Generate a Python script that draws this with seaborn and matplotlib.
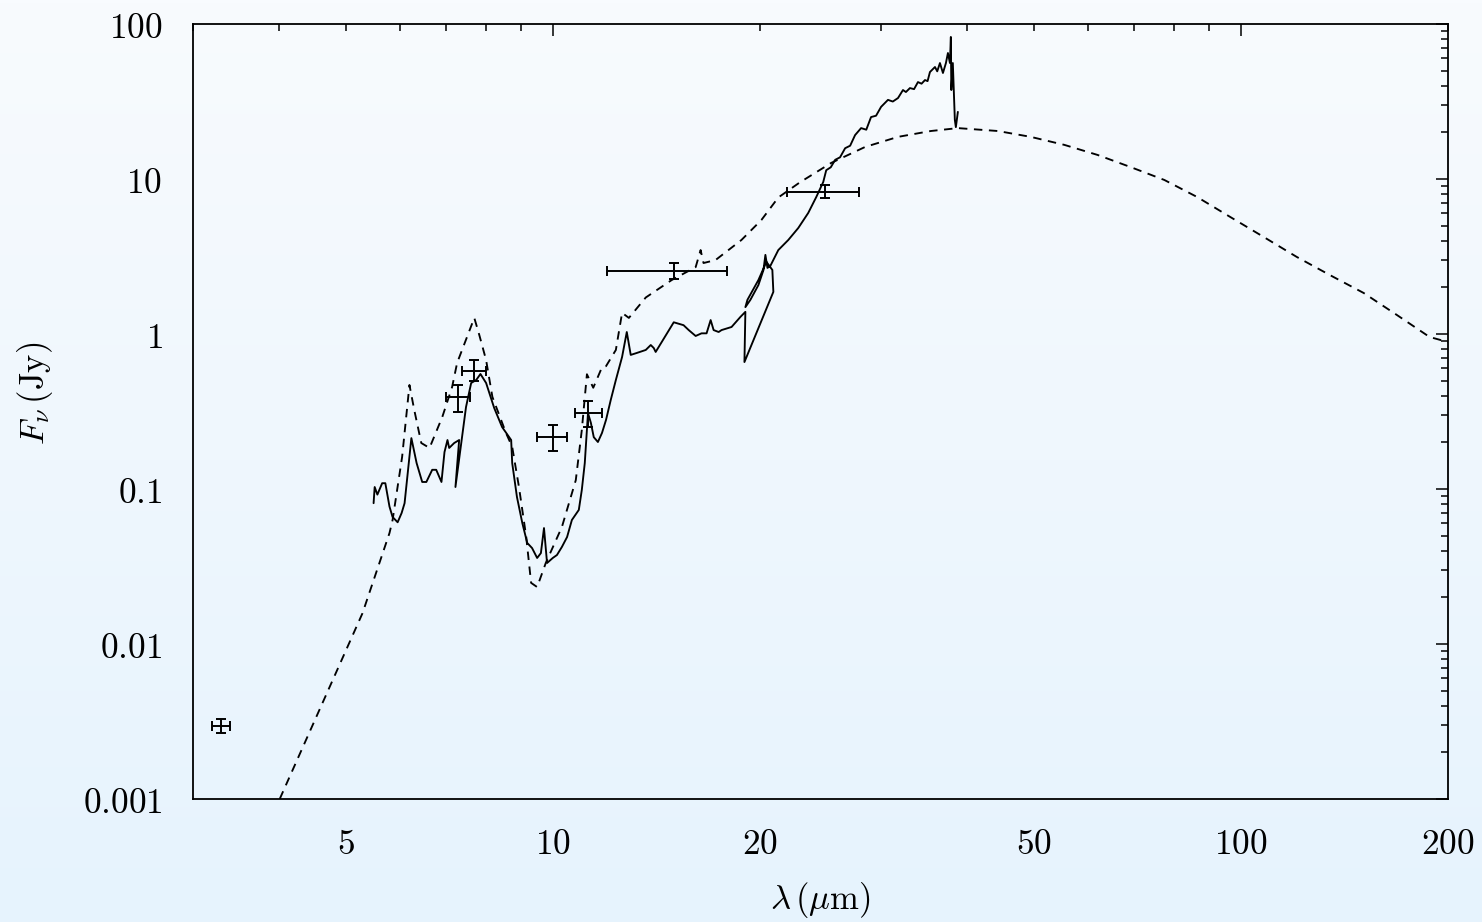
import numpy as np
import pandas as pd
import matplotlib
matplotlib.use("Agg")
import matplotlib.pyplot as plt
from matplotlib import ticker
import seaborn as sns

# ---------------- data ----------------
# model SED (dashed)
model_wl = [4.01, 5.29, 5.79, 5.85, 6.04, 6.19, 6.29, 6.44, 6.62, 6.91, 7.14, 7.26, 7.69,
            7.82, 8.00, 8.17, 8.55, 8.73, 8.93, 9.15, 9.30, 9.49, 9.77, 10.31, 10.80,
            11.02, 11.21, 11.45, 11.79, 11.95, 12.35, 12.61, 12.90, 13.65, 14.89, 16.13,
            16.40, 16.56, 17.24, 18.80, 20.10, 21.27, 22.85, 25.39, 28.44, 31.75, 35.44,
            38.79, 44.34, 49.5, 55.4, 61.9, 69.1, 77.4, 86.4, 96.5, 108.0, 120.6, 134.7,
            150.8, 168.4, 188.0, 200.0]
model_flux = [0.001, 0.0158, 0.052, 0.063, 0.161, 0.469, 0.324, 0.198, 0.184, 0.292, 0.455,
              0.65, 1.27, 0.985, 0.679, 0.393, 0.23, 0.187, 0.103, 0.049, 0.0248, 0.0233,
              0.0334, 0.0569, 0.114, 0.240, 0.55, 0.45, 0.61, 0.62, 0.789, 1.37, 1.27,
              1.72, 2.23, 2.70, 3.48, 2.87, 3.00, 4.04, 5.44, 7.6, 9.5, 12.7, 16.1, 18.7,
              20.4, 21.3, 20.4, 18.7, 16.6, 14.3, 11.95, 9.86, 7.65, 5.69, 4.22, 3.14, 2.40,
              1.84, 1.33, 0.957, 0.887]

# observed spectrum (solid)
spec_wl = [5.49, 5.51, 5.56, 5.65, 5.71, 5.79, 5.85, 5.95, 6.03, 6.09, 6.23, 6.34, 6.46,
           6.55, 6.68, 6.77, 6.89, 6.96, 7.03, 7.07, 7.19, 7.31,
           7.22, 7.48, 7.61, 7.74, 7.85, 8.00, 8.22, 8.44, 8.70, 8.73, 8.87, 9.03, 9.18,
           9.33, 9.49, 9.61, 9.71, 9.81, 10.0, 10.14, 10.31, 10.49, 10.66, 10.91, 11.02,
           11.13, 11.21, 11.25, 11.36, 11.47, 11.63, 11.79, 11.95, 12.14, 12.35, 12.61,
           12.81, 12.98, 13.24, 13.65, 13.88, 14.02, 14.11, 14.99, 15.49, 15.76, 16.13,
           16.45, 16.73, 16.96, 17.13, 17.42, 17.59, 18.19, 18.74, 19.05,
           18.99, 20.92, 20.85, 20.44, 19.90, 19.18, 19.05, 19.37, 19.90, 20.24, 20.37,
           20.51, 20.71,
           21.27, 21.99, 22.74, 23.51, 24.15, 24.72, 24.97, 25.35, 25.73, 26.15,
           26.60, 27.05, 27.50, 28.06, 28.55, 29.01, 29.50, 30.0, 30.70, 31.2,
           31.75, 32.28, 32.6, 33.04, 33.5, 33.94, 34.35, 34.75, 35.05, 35.33,
           35.93, 36.2, 36.53, 36.90, 37.27, 37.52, 37.77, 37.89, 37.95, 38.14,
           38.40, 38.53, 38.79]
spec_flux = [0.081, 0.103, 0.092, 0.109, 0.109, 0.077, 0.066, 0.061, 0.070, 0.081, 0.213,
             0.147, 0.111, 0.111, 0.133, 0.133, 0.111, 0.173, 0.207, 0.184, 0.198, 0.207,
             0.103, 0.338, 0.483, 0.505, 0.552, 0.483, 0.333, 0.251, 0.207, 0.147, 0.0888,
             0.0604, 0.0449, 0.0416, 0.0359, 0.0386, 0.056, 0.0333, 0.0359, 0.0375, 0.0423,
             0.049, 0.0631, 0.0733, 0.0986, 0.147, 0.240, 0.309, 0.267, 0.216, 0.201, 0.23,
             0.279, 0.375, 0.505, 0.711, 1.03, 0.733, 0.754, 0.789, 0.849, 0.812, 0.766,
             1.19, 1.14, 1.06, 0.971, 1.01, 1.01, 1.23, 1.06, 1.03, 1.06, 1.11, 1.29, 1.39,
             0.659, 1.87, 2.59, 2.92, 2.23, 1.66, 1.49, 1.66, 2.07, 2.59, 3.24,
             2.67, 2.75,
             3.48, 4.04, 4.83, 6.04, 7.65, 9.56, 11.4, 11.9, 13.3, 13.8,
             15.8, 16.4, 19.2, 21.3, 20.8, 25.1, 25.6, 29.2, 32.4, 31.6,
             33.3, 37.5, 36.4, 38.6, 38.0, 42.2, 41.2, 43.5, 42.8, 49.0,
             52.8, 49.5, 56.0, 48.3, 56.0, 65.0, 56.0, 82.5, 37.5, 56.0,
             24.0, 21.6, 27.1]

# photometry with error bars
phot_wl = [3.30, 7.29, 7.69, 10.0, 11.25, 14.99, 24.89]
phot_flux = [0.00296, 0.393, 0.577, 0.216, 0.309, 2.55, 8.25]
phot_wl_lo = [3.20, 7.00, 7.39, 9.49, 10.77, 11.98, 21.9]
phot_wl_hi = [3.39, 7.59, 8.00, 10.49, 11.79, 17.94, 27.9]
phot_flux_lo = [0.00266, 0.314, 0.495, 0.176, 0.251, 2.26, 7.53]
phot_flux_hi = [0.00327, 0.469, 0.679, 0.259, 0.369, 2.87, 9.14]

y_ticks = [0.001, 0.01, 0.1, 1, 10, 100]
y_ticklabels = ["0.001", "0.01", "0.1", "1", "10", "100"]
x_labelled = [5, 10, 20, 50, 100, 200]

# ---------------- style ----------------
sns.set_theme(style="white")
plt.rcParams["font.family"] = ["DejaVu Serif"]
plt.rcParams["mathtext.fontset"] = "cm"

W, H, DPI = 1482, 922, 100
fig = plt.figure(figsize=(W / DPI, H / DPI), dpi=DPI)

# gradient background
bg = fig.add_axes([0, 0, 1, 1], zorder=-10)
top = np.array([248, 251, 254]) / 255
bot = np.array([230, 243, 253]) / 255
t = np.linspace(0, 1, 256)[:, None]
grad = (top[None, :] * (1 - t) + bot[None, :] * t)[:, None, :]
bg.imshow(grad, aspect="auto", extent=[0, 1, 0, 1], origin="upper")
bg.set_axis_off()

ax = fig.add_axes([193 / W, 1 - 799 / H, (1448 - 193) / W, (799 - 24) / H])
ax.set_facecolor("none")

df_model = pd.DataFrame({"wl": model_wl, "flux": model_flux})
df_spec = pd.DataFrame({"wl": spec_wl, "flux": spec_flux})

sns.lineplot(data=df_model, x="wl", y="flux", ax=ax, sort=False, estimator=None,
             color="black", linewidth=1.35, linestyle=(0, (4.5, 3.5)))
sns.lineplot(data=df_spec, x="wl", y="flux", ax=ax, sort=False, estimator=None,
             color="black", linewidth=1.35)

xerr = [np.array(phot_wl) - np.array(phot_wl_lo), np.array(phot_wl_hi) - np.array(phot_wl)]
yerr = [np.array(phot_flux) - np.array(phot_flux_lo), np.array(phot_flux_hi) - np.array(phot_flux)]
ax.errorbar(phot_wl, phot_flux, xerr=xerr, yerr=yerr, fmt="none", ecolor="black",
            elinewidth=1.4, capsize=3.5, capthick=1.4)

ax.set_xscale("log")
ax.set_yscale("log")
ax.set_xlim(3, 200)
ax.set_ylim(0.001, 100)

# y ticks
ax.yaxis.set_major_locator(ticker.FixedLocator(y_ticks))
ax.yaxis.set_major_formatter(ticker.FixedFormatter(["$" + s + "$" for s in y_ticklabels]))
ax.yaxis.set_minor_locator(ticker.LogLocator(base=10, subs=np.arange(2, 10), numticks=20))
ax.yaxis.set_minor_formatter(ticker.NullFormatter())

# x ticks
ax.xaxis.set_major_locator(ticker.FixedLocator([10, 100]))
ax.xaxis.set_minor_locator(ticker.LogLocator(base=10, subs=np.arange(2, 10), numticks=20))


def xfmt(v, pos):
    for L in x_labelled:
        if abs(v - L) / L < 1e-6:
            return "$%d$" % L
    return ""


ax.xaxis.set_major_formatter(ticker.FuncFormatter(xfmt))
ax.xaxis.set_minor_formatter(ticker.FuncFormatter(xfmt))

ax.tick_params(which="both", direction="in", top=True, right=True, colors="black",
               labelsize=25.5, width=1.1)
ax.tick_params(which="major", length=8.8, pad=20)
ax.tick_params(which="minor", length=5.3, pad=20)
ax.tick_params(axis="y", which="both", pad=22)

for s in ax.spines.values():
    s.set_color("black")
    s.set_linewidth(1.3)

ax.set_xlabel(r"$\lambda\,(\mu\mathrm{m})$", fontsize=25, color="black")
ax.set_ylabel(r"$F_\nu\,(\mathrm{Jy})$", fontsize=25, color="black")
ax.xaxis.set_label_coords(0.5, -0.104)
ax.yaxis.set_label_coords(-0.11, 0.523)

fig.savefig("out.png", dpi=DPI)
